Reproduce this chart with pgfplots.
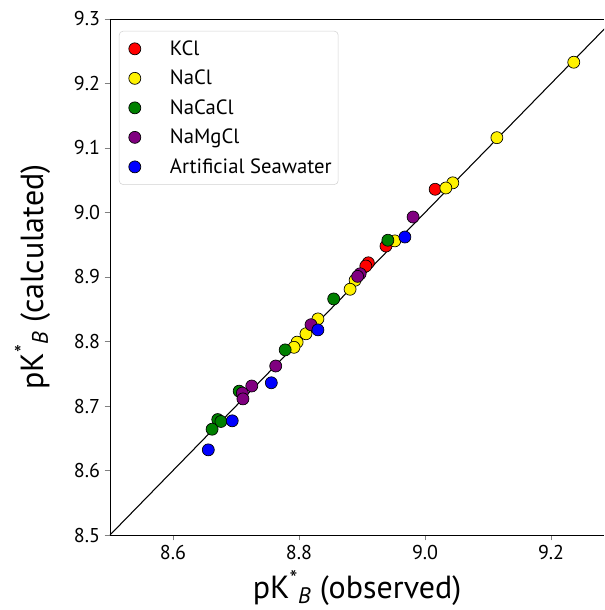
\documentclass[border=0pt]{standalone}
\usepackage{fontspec}
\setmainfont{PT Sans}
\usepackage{pgfplots}
\pgfplotsset{compat=1.18}
\usetikzlibrary{calc}
\definecolor{nagreen}{RGB}{0,128,0}
\definecolor{napurple}{RGB}{128,0,128}

\begin{document}
\begin{tikzpicture}
\begin{axis}[
    name=main,
    scale only axis,
    width=370.5pt, height=387pt,
    xmin=8.5, xmax=9.284,
    ymin=8.5, ymax=9.3,
    axis y line*=left,
    xtick pos=bottom,
    tick align=outside,
    major tick length=4pt,
    xtick={8.6,8.8,9.0,9.2},
    ytick={8.5,8.6,...,9.3},
    /pgf/number format/.cd, fixed, fixed zerofill, precision=1, assume math mode=true,
    /pgfplots/.cd,
    tick label style={font=\fontsize{15}{18}\selectfont},
    xlabel={pK\textsuperscript{*}\textsubscript{\textit{B}} (observed)},
    ylabel={pK\textsuperscript{*}\textsubscript{\textit{B}} (calculated)},
    label style={font=\fontsize{24}{28}\selectfont},
    xlabel style={yshift=-1.5pt},
    ylabel style={yshift=11pt},
    legend style={at={(0.018,0.977)}, anchor=north west,
        draw=gray!35, rounded corners=3pt,
        font=\fontsize{15.5}{18}\selectfont,
        row sep=5.6pt, inner xsep=3pt, inner ysep=5pt},
    legend image code/.code={\draw[#1] plot coordinates {(0.3cm,0cm)}; \path (0cm,0cm) (1.15cm,0cm);},
    legend cell align=left,
    clip=true,
]
\addplot[only marks, mark=*, mark size=4.5pt, mark options={draw=black, line width=0.5pt, fill=red}] coordinates {
    (9.016,9.036) (8.910,8.922) (8.906,8.917) (8.938,8.948)
};
\addlegendentry{KCl}
\addplot[only marks, mark=*, mark size=4.5pt, mark options={draw=black, line width=0.5pt, fill=yellow}] coordinates {
    (9.236,9.233) (9.114,9.116) (9.044,9.046) (9.033,9.038) (8.952,8.956)
    (8.889,8.895) (8.881,8.881) (8.830,8.835) (8.811,8.812) (8.797,8.799)
    (8.792,8.791)
};
\addlegendentry{NaCl}
\addplot[only marks, mark=*, mark size=4.5pt, mark options={draw=black, line width=0.5pt, fill=nagreen}] coordinates {
    (8.941,8.957) (8.855,8.866) (8.778,8.787) (8.705,8.723) (8.671,8.679)
    (8.676,8.676) (8.662,8.664)
};
\addlegendentry{NaCaCl}
\addplot[only marks, mark=*, mark size=4.5pt, mark options={draw=black, line width=0.5pt, fill=napurple}] coordinates {
    (8.981,8.993) (8.897,8.905) (8.893,8.901) (8.819,8.826) (8.763,8.762)
    (8.725,8.731) (8.710,8.720) (8.711,8.711)
};
\addlegendentry{NaMgCl}
\addplot[only marks, mark=*, mark size=4.5pt, mark options={draw=black, line width=0.5pt, fill=blue}] coordinates {
    (8.968,8.962) (8.830,8.818) (8.756,8.736) (8.694,8.677) (8.656,8.632)
};
\addlegendentry{Artificial Seawater}
\addplot[black, line width=0.8pt, no marks, forget plot] coordinates {
    (8.5,8.5) (9.3,9.3)
};
\end{axis}
\pgfresetboundingbox
\path[use as bounding box] ($(main.south west)+(-82.5pt,-56.25pt)$) rectangle ($(main.north east)+(0pt,14.25pt)$);
\end{tikzpicture}
\end{document}
